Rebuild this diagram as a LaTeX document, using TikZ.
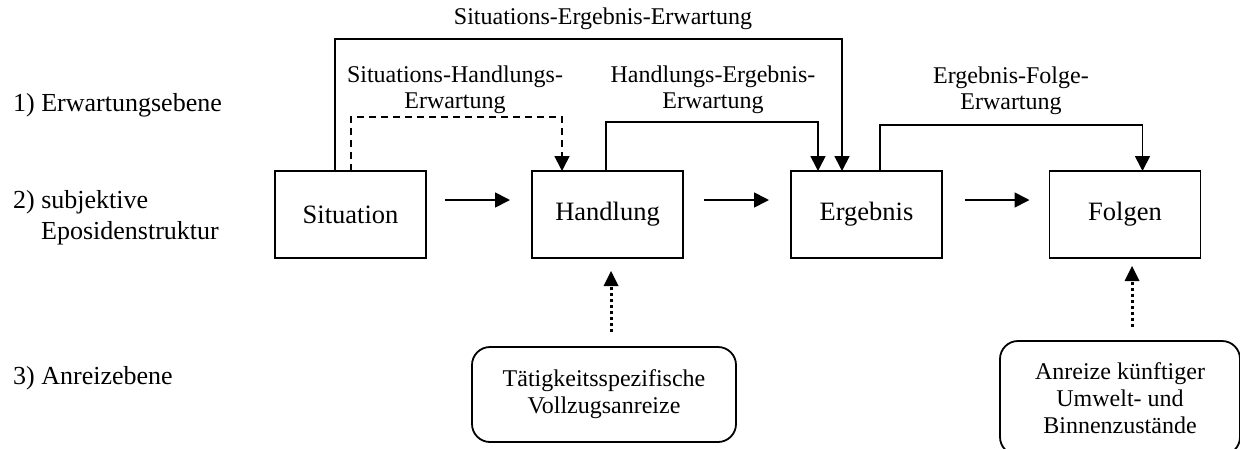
\documentclass[tikz,border=0pt]{standalone}
\usepackage{fontspec}
\setmainfont{Liberation Serif}
\usetikzlibrary{arrows.meta}
\begin{document}
\begin{tikzpicture}[x=1pt,y=-1pt,
  box/.style={draw,line width=1.8pt,minimum width=151pt,minimum height=87pt,inner sep=0pt,outer sep=0pt,font=\fontsize{26.5}{30}\selectfont},
  rbox/.style={draw,line width=1.8pt,rounded corners=18pt,inner sep=0pt,outer sep=0pt,align=center,font=\fontsize{24}{27}\selectfont},
  lbl/.style={inner sep=0pt,align=center,font=\fontsize{24}{26.5}\selectfont},
  side/.style={inner sep=0pt,anchor=west,font=\fontsize{26}{30}\selectfont},
  arr/.style={line width=1.7pt,-{Triangle[length=15pt,width=15pt]}},
  dasharr/.style={line width=1.7pt,dash pattern=on 7pt off 5pt,-{Triangle[length=15pt,width=15pt]}},
  dotarr/.style={line width=3pt,dash pattern=on 3pt off 3pt,-{Triangle[length=15pt,width=15pt,line width=0pt]}}
]
\useasboundingbox (0,0) rectangle (1240,448);

% left level labels
\node[side] (l1) at (13,105) {1) Erwartungsebene};
\node[side] (l2a) at (13,202) {2) subjektive};
\node[side] (l2b) at (41,233) {Eposidenstruktur};
\node[side] (l3) at (13,378) {3) Anreizebene};

% main boxes
\node[box] (sit) at (350.5,214.5) {Situation};
\node[box] (hand) at (607.5,214.5) {Handlung};
\node[box] (erg) at (866.5,214.5) {Ergebnis};
\node[box] (fol) at (1125,214.5) {Folgen};

% incentive boxes
\node[rbox,minimum width=264pt,minimum height=95pt] (tat) at (604,394.5) {Tätigkeitsspezifische\\Vollzugsanreize};
\node[rbox,minimum width=240pt,minimum height=114pt] (anr) at (1120,398) {Anreize künftiger\\Umwelt- und\\Binnenzustände};

% horizontal arrows
\draw[arr] ([xshift=19pt,yshift=14.5pt]sit.east) -- ([xshift=-22pt,yshift=14.5pt]hand.west);
\draw[arr] ([xshift=21pt,yshift=14.5pt]hand.east) -- ([xshift=-22pt,yshift=14.5pt]erg.west);
\draw[arr] ([xshift=23pt,yshift=14.5pt]erg.east) -- ([xshift=-20pt,yshift=14.5pt]fol.west);

% expectation connectors
\draw[arr] ([xshift=60pt]sit.north west) -- ++(0,-132) -| ([xshift=51pt]erg.north west);
\draw[dasharr] ([xshift=76pt]sit.north west) -- ++(0,-54) -| ([xshift=30pt]hand.north west);
\draw[arr] ([xshift=74pt]hand.north west) -- ++(0,-49) -| ([xshift=27pt]erg.north west);
\draw[arr] ([xshift=89pt]erg.north west) -- ++(0,-46) -| ([xshift=93pt]fol.north west);

% expectation labels
\node[lbl] (se) at (603,19) {Situations-Ergebnis-Erwartung};
\node[lbl] (sh) at (455,90) {Situations-Handlungs-\\Erwartung};
\node[lbl] (he) at (713,90) {Handlungs-Ergebnis-\\Erwartung};
\node[lbl] (ef) at (1011,91) {Ergebnis-Folge-\\Erwartung};

% incentive arrows
\draw[dotarr] ([xshift=7pt,yshift=15pt]tat.north) -- ([xshift=3.5pt,yshift=-13pt]hand.south);
\draw[dotarr] ([xshift=12pt,yshift=14pt]anr.north) -- ([xshift=7pt,yshift=-8pt]fol.south);
\end{tikzpicture}
\end{document}
